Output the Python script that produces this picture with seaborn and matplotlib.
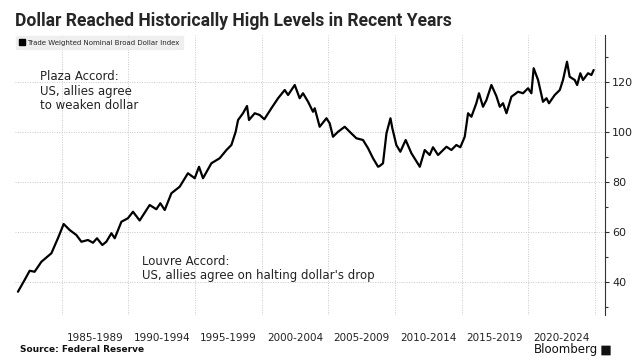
import matplotlib
matplotlib.use("Agg")
import matplotlib.pyplot as plt
import matplotlib.patches as mpatches
from matplotlib.lines import Line2D
from matplotlib import font_manager
import seaborn as sns
import pandas as pd

# Trade weighted nominal broad dollar index
years = [1981.72, 1982.22, 1982.6, 1982.97, 1983.48, 1984.23, 1984.72, 1985.15, 1985.6, 1986.1,
         1986.48, 1986.97, 1987.35, 1987.65, 1988.05, 1988.35, 1988.73, 1988.98, 1989.48, 1989.97,
         1990.35, 1990.85, 1991.6, 1992.1, 1992.4, 1992.73, 1993.23, 1993.85, 1994.47, 1994.98,
         1995.3, 1995.6, 1996.23, 1996.85, 1997.36, 1997.73, 1998.05, 1998.23, 1998.6, 1998.9,
         1999.05, 1999.48, 1999.85, 2000.2, 2000.73, 2001.23, 2001.73, 2001.98, 2002.48, 2002.85,
         2003.1, 2003.48, 2003.85, 2003.98, 2004.35, 2004.86, 2005.1, 2005.35, 2005.73, 2006.23,
         2006.6, 2007.1, 2007.6, 2007.98, 2008.35, 2008.73, 2008.85, 2009.1, 2009.36, 2009.66,
         2009.8, 2010.1, 2010.4, 2010.8, 2011.23, 2011.86, 2012.23, 2012.6, 2012.85, 2013.23,
         2013.86, 2014.23, 2014.6, 2014.9, 2015.23, 2015.48, 2015.73, 2016.1, 2016.3, 2016.6,
         2016.86, 2017.23, 2017.6, 2017.86, 2018.1, 2018.36, 2018.73, 2019.23, 2019.6, 2019.98,
         2020.23, 2020.4, 2020.73, 2021.1, 2021.36, 2021.55, 2021.98, 2022.36, 2022.6, 2022.9,
         2023.1, 2023.48, 2023.66, 2023.9, 2024.1, 2024.48, 2024.73, 2024.9]
index_values = [36.1, 40.8, 44.5, 44.1, 48.1, 51.5, 57.5, 63.2, 60.8, 58.8,
                56.1, 56.8, 55.7, 57.5, 54.8, 56.1, 59.5, 57.5, 64.1, 65.5,
                68.1, 64.6, 70.8, 69.1, 71.5, 68.8, 75.5, 78.1, 83.5, 81.5,
                86.1, 81.5, 87.5, 89.5, 92.8, 94.8, 100.1, 104.8, 107.5, 110.4,
                104.8, 107.5, 106.8, 105.1, 109.5, 113.5, 116.8, 114.8, 118.8, 113.5,
                115.5, 112.1, 108.1, 109.5, 102.1, 105.5, 103.5, 98.1, 100.1, 102.1,
                100.1, 97.5, 96.8, 93.5, 89.5, 86.1, 86.4, 87.5, 99.5, 105.5,
                101.5, 94.8, 92.1, 96.8, 91.5, 86.1, 92.8, 90.8, 93.9, 90.8,
                94.1, 92.8, 94.8, 93.9, 98.1, 107.5, 106.1, 111.5, 115.5, 110.1,
                112.8, 118.8, 114.4, 110.1, 111.5, 107.5, 114.1, 116.1, 115.5, 117.5,
                115.5, 125.5, 120.8, 112.1, 113.5, 111.5, 114.8, 116.8, 120.8, 128.1,
                122.1, 120.8, 118.8, 123.5, 120.8, 123.5, 122.8, 124.8]

period_starts = [1985, 1990, 1995, 2000, 2005, 2010, 2015, 2020]
period_labels = ["1985-1989", "1990-1994", "1995-1999", "2000-2004",
                 "2005-2009", "2010-2014", "2015-2019", "2020-2024"]
y_ticks = [40, 60, 80, 100, 120]

df = pd.DataFrame({"year": years, "index": index_values})

sns.set_style("white")
plt.rcParams["font.family"] = ["DejaVu Sans"]

names = {f.name for f in font_manager.fontManager.ttflist}
title_font = "Liberation Sans Narrow" if "Liberation Sans Narrow" in names else "Roboto"

fig = plt.figure(figsize=(6.4, 3.64), dpi=100)
ax = fig.add_axes([15 / 640, 49 / 364, 590 / 640, 280 / 364])

sns.lineplot(data=df, x="year", y="index", ax=ax, color="black", linewidth=1.6, legend=False)

ax.set_xlim(1981.5, 2025.75)
ax.set_ylim(26.8, 138.8)

# grid lines at period boundaries, labels centred in each period
ax.set_xticks(period_starts + [2025])
ax.set_xticklabels([])
ax.set_xticks([s + 2.5 for s in period_starts], minor=True)
ax.set_xticklabels(period_labels, minor=True, fontsize=7.5, color="#222222")
ax.tick_params(axis="x", which="both", length=0, pad=13)

ax.yaxis.tick_right()
ax.set_yticks(y_ticks)
ax.set_yticks([30, 50, 70, 90, 110, 130], minor=True)
ax.tick_params(axis="y", which="major", length=3, width=0.8, color="#333333",
               labelsize=8, labelcolor="#222222", pad=2)
ax.tick_params(axis="y", which="minor", length=2, width=0.8, color="#333333")

ax.grid(True, which="major", color="#c8c8c8", linestyle=(0, (1, 1.5)), linewidth=0.7)
for side in ["top", "left", "bottom"]:
    ax.spines[side].set_visible(False)
ax.spines["right"].set_color("#333333")
ax.spines["right"].set_linewidth(0.8)
ax.set_xlabel("")
ax.set_ylabel("")

handle = Line2D([], [], marker="s", color="black", linestyle="none", markersize=4)
leg = ax.legend([handle], ["Trade Weighted Nominal Broad Dollar Index"],
                loc="upper left", bbox_to_anchor=(0.0, 1.0), fontsize=5.0,
                frameon=True, fancybox=False, handlelength=0.6, handletextpad=0.4,
                borderpad=0.5, borderaxespad=0.2)
leg.get_frame().set_facecolor("#ececec")
leg.get_frame().set_edgecolor("#ececec")

# annotations
fig.text(40 / 640, 1 - 70 / 364, "Plaza Accord:\nUS, allies agree\nto weaken dollar",
         fontsize=8.5, color="#222222", va="top", ha="left", linespacing=1.15)
fig.text(142 / 640, 1 - 255 / 364, "Louvre Accord:\nUS, allies agree on halting dollar's drop",
         fontsize=8.5, color="#222222", va="top", ha="left", linespacing=1.15)

# title sized to match the reference width
title = fig.text(15 / 640, 1 - 12 / 364, "Dollar Reached Historically High Levels in Recent Years",
                 fontsize=14, fontweight="bold", family=title_font, va="top", ha="left")
fig.canvas.draw()
w = title.get_window_extent().width
title.set_fontsize(14 * 440 / w)

fig.text(20 / 640, 1 - 350 / 364, "Source: Federal Reserve", fontsize=6.5,
         fontweight="bold", va="center", ha="left", color="#111111")
fig.text(598 / 640, 1 - 350 / 364, "Bloomberg", fontsize=8.5, va="center", ha="right",
         color="#111111")
fig.patches.append(mpatches.FancyBboxPatch((602 / 640, 1 - 355 / 364), 8 / 640, 9 / 364,
                                           boxstyle="round,pad=0.001", transform=fig.transFigure,
                                           facecolor="#111111", edgecolor="none"))

fig.savefig("out.png", dpi=100)
